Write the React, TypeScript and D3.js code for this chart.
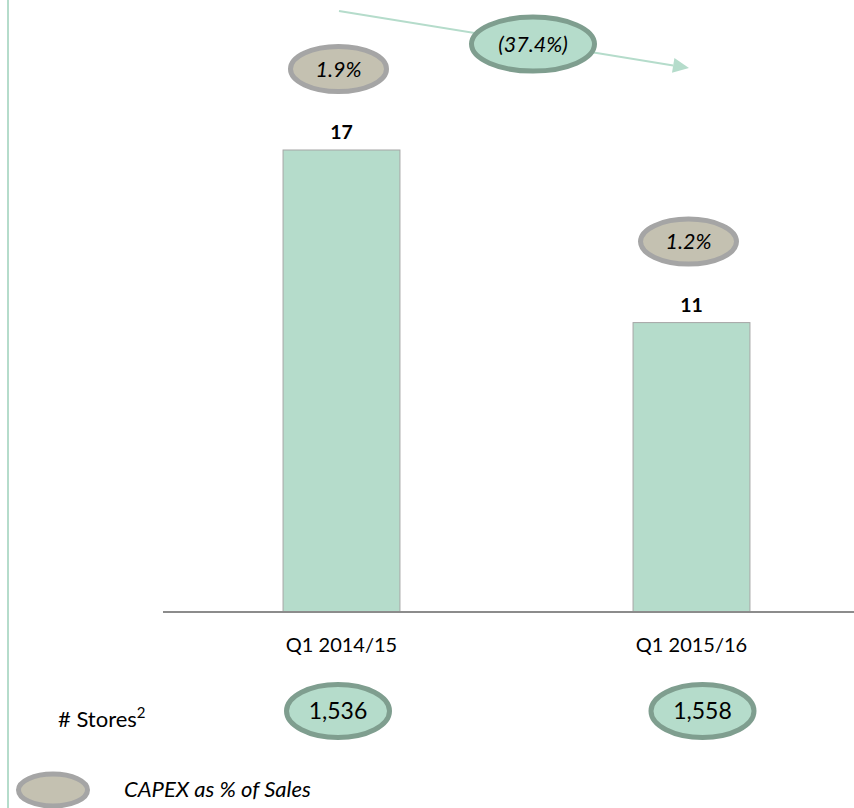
import React from "react";
import * as d3 from "d3";

const categories = ["Q1 2014/15", "Q1 2015/16"];
const capexValues = [17.4, 10.9];
const capexLabels = ["17", "11"];
const capexPctLabels = ["1.9%", "1.2%"];
const storeCounts = ["1,536", "1,558"];
const changeLabel = "(37.4%)";
const legendLabel = "CAPEX as % of Sales";

const W = 854;
const H = 808;
const FONT = "Lato, 'Open Sans', sans-serif";

const GREEN = "#b5dccb";
const GREEN_DARK = "#7f9e8f";
const GREY_FILL = "#c4c1b1";
const GREY_STROKE = "#a5a5a5";

export default function App() {
  const baseY = 612;
  const x = d3.scaleBand<string>().domain(categories).range([166.5, 866.5]).paddingInner(0).paddingOuter(0);
  const y = d3.scaleLinear().domain([0, 17.4]).range([baseY, 150]);
  const barW = x.step() * 0.334;
  const cx = (c: string) => (x(c) as number) + x.bandwidth() / 2;
  const storeOffset = [-3.5, 11];

  const a0 = { x: cx(categories[0]) - 2.5, y: 11 };
  const a1 = { x: cx(categories[1]) - 2.5, y: 68 };
  const ang = Math.atan2(a1.y - a0.y, a1.x - a0.x);
  const headLen = 16;
  const headW = 7.5;
  const lineEnd = { x: a1.x - headLen * Math.cos(ang), y: a1.y - headLen * Math.sin(ang) };
  const px = -Math.sin(ang), py = Math.cos(ang);
  const head = [
    [a1.x, a1.y],
    [lineEnd.x + px * headW, lineEnd.y + py * headW],
    [lineEnd.x - px * headW, lineEnd.y - py * headW],
  ];
  const midX = 533;
  const mid = { x: midX, y: a0.y + ((midX - a0.x) / (a1.x - a0.x)) * (a1.y - a0.y) + 1.5 };

  return (
    <svg width={W} height={H} style={{ position: "absolute", left: 0, top: 0, background: "#fff" }} fontFamily={FONT}>
      <line x1={8} x2={8} y1={0} y2={H} stroke={GREEN} strokeWidth={2} />

      {categories.map((c, i) => (
        <g key={c}>
          <rect
            x={cx(c) - barW / 2}
            y={y(capexValues[i])}
            width={barW}
            height={baseY - y(capexValues[i])}
            fill={GREEN}
            stroke="#a6a6a6"
            strokeWidth={1}
          />
          <text x={cx(c)} y={y(capexValues[i]) - 11} textAnchor="middle" fontWeight="bold" fontSize={19.5} fill="#000">
            {capexLabels[i]}
          </text>
          <ellipse cx={cx(c) - 3} cy={y(capexValues[i]) - 81} rx={48} ry={22.5} fill={GREY_FILL} stroke={GREY_STROKE} strokeWidth={5} />
          <text x={cx(c) - 3} y={y(capexValues[i]) - 81} dy="0.36em" textAnchor="middle" fontStyle="italic" fontSize={21.5} fill="#000">
            {capexPctLabels[i]}
          </text>
          <text x={cx(c)} y={652} textAnchor="middle" fontSize={20} fill="#000">
            {c}
          </text>
          <ellipse cx={cx(c) + storeOffset[i]} cy={711} rx={51.5} ry={26.5} fill={GREEN} stroke={GREEN_DARK} strokeWidth={5} />
          <text x={cx(c) + storeOffset[i]} y={711} dy="0.36em" textAnchor="middle" fontSize={23} fill="#000">
            {storeCounts[i]}
          </text>
        </g>
      ))}

      <line x1={163} x2={W} y1={baseY} y2={baseY} stroke="#8c8c8c" strokeWidth={2} />

      <line x1={a0.x} y1={a0.y} x2={lineEnd.x} y2={lineEnd.y} stroke={GREEN} strokeWidth={2} />
      <polygon points={head.map((p) => p.join(",")).join(" ")} fill={GREEN} />
      <ellipse cx={mid.x} cy={mid.y} rx={61.5} ry={27} fill={GREEN} stroke={GREEN_DARK} strokeWidth={5} />
      <text x={mid.x} y={mid.y} dy="0.36em" textAnchor="middle" fontStyle="italic" fontSize={21.5} fill="#000">
        {changeLabel}
      </text>

      <text x={58} y={727} fontSize={22} fill="#000">
        # Stores<tspan fontSize={15} dy={-9}>2</tspan>
      </text>

      <ellipse cx={53} cy={790} rx={34.5} ry={16} fill={GREY_FILL} stroke={GREY_STROKE} strokeWidth={5} />
      <text x={124} y={797} fontStyle="italic" fontSize={22} fill="#000">
        {legendLabel}
      </text>
    </svg>
  );
}
